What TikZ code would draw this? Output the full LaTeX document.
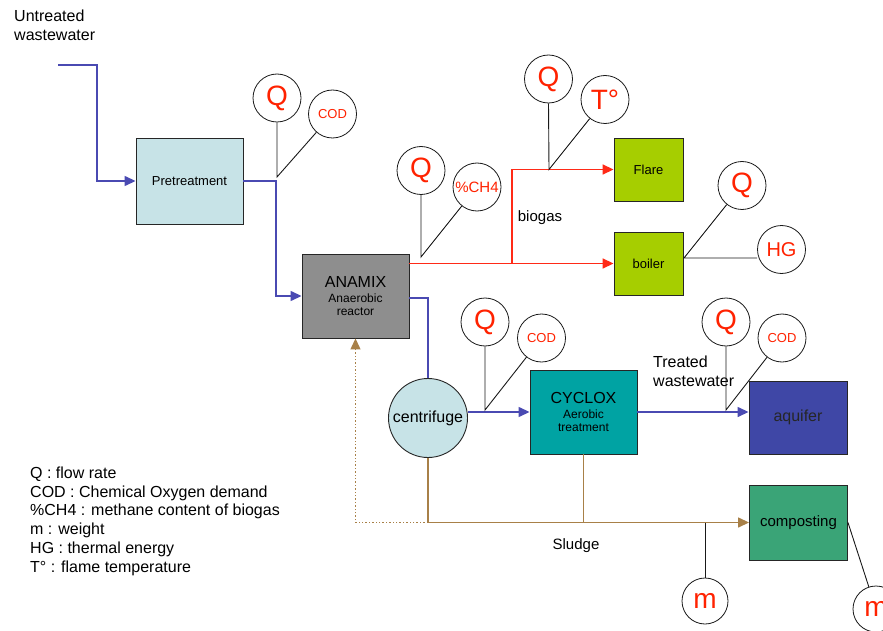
\documentclass[tikz,border=0pt]{standalone}
\usepackage{fontspec}
\setmainfont{Liberation Sans}
\usetikzlibrary{arrows.meta}
\definecolor{lblue}{HTML}{C7E3E7}
\definecolor{rgray}{HTML}{8E8E8E}
\definecolor{lime}{HTML}{A6CE00}
\definecolor{teal2}{HTML}{00A3A3}
\definecolor{aqblue}{HTML}{3F47A6}
\definecolor{compgreen}{HTML}{3AA477}
\definecolor{flowblue}{HTML}{4A4AB2}
\definecolor{gasred}{HTML}{FF2A17}
\definecolor{sludge}{HTML}{A88048}
\definecolor{labred}{HTML}{FF2200}
\begin{document}
\begin{tikzpicture}[x=1pt,y=-1pt,
  box/.style={draw=black!85, line width=0.9pt, inner sep=0pt, align=center},
  probe/.style={circle, draw=black!90, line width=0.8pt, fill=white, minimum size=48pt, inner sep=0pt, text=labred},
  call/.style={draw=black!90, line width=0.9pt},
  tip/.style={-{Triangle[length=11pt,width=10pt]}},
  water/.style={draw=flowblue, line width=1.4pt},
  gas/.style={draw=gasred, line width=1.6pt},
  mud/.style={draw=sludge, line width=1.4pt},
  big/.style={font=\fontsize{28}{30}\selectfont},
  small/.style={font=\fontsize{13}{15}\selectfont},
  mid/.style={font=\fontsize{15}{17}\selectfont},
  hgf/.style={font=\fontsize{20}{22}\selectfont},
  txt/.style={font=\fontsize{16}{19}\selectfont, inner sep=0pt}
]
\useasboundingbox (0,0) rectangle (883,631);
\clip (0,0) rectangle (883,631);

% boxes
\node[box, fill=lblue, minimum width=107pt, minimum height=86pt, font=\fontsize{13}{15}\selectfont] (pre) at (189.5,181) {Pretreatment};
\node[box, fill=rgray, minimum width=107pt, minimum height=84pt] (ana) at (355.5,296) {\fontsize{16}{18}\selectfont ANAMIX\\[3pt]\fontsize{12}{14}\selectfont Anaerobic\\[1pt]\fontsize{12}{14}\selectfont reactor};
\node[box, fill=lime, minimum width=69pt, minimum height=63pt, font=\fontsize{13}{15}\selectfont] (flare) at (648.5,169.5) {Flare};
\node[box, fill=lime, minimum width=69pt, minimum height=63pt, font=\fontsize{13}{15}\selectfont] (boiler) at (648.5,263.5) {boiler};
\node[circle, draw=black!85, line width=0.9pt, fill=lblue, minimum size=79pt, inner sep=0pt, font=\fontsize{16}{18}\selectfont] (cent) at (428,418) {centrifuge};
\node[box, fill=teal2, minimum width=107pt, minimum height=84pt] (cyc) at (583.5,412) {\fontsize{16}{18}\selectfont CYCLOX\\[3pt]\fontsize{12}{14}\selectfont Aerobic\\[1pt]\fontsize{12}{14}\selectfont treatment};
\node[box, fill=aqblue, minimum width=98pt, minimum height=73pt, font=\fontsize{16}{18}\selectfont, text=black!85] (aq) at (798,417.5) {aquifer};
\node[box, fill=compgreen, minimum width=98pt, minimum height=75pt, font=\fontsize{15}{17}\selectfont] (comp) at (798.5,522.5) {composting};

% texts
\node[txt, anchor=north west, align=left] (untr) at (14,10) {Untreated\\wastewater};
\node[txt, anchor=north west, align=left] (treated) at (653,356) {Treated\\wastewater};
\node[txt, font=\fontsize{15}{17}\selectfont] (biogas) at (540,218) {biogas};
\node[txt, font=\fontsize{15}{17}\selectfont] (sludgetxt) at (576,546) {Sludge};
\node[txt, anchor=north west, align=left, font=\fontsize{16}{18.8}\selectfont] (legend) at (30,466.5) {Q : flow rate\\COD : Chemical Oxygen demand\\\%CH4 : methane content of biogas\\m : weight\\HG : thermal energy\\T° : flame temperature};

% probes
\node[probe, big] (q1) at (277,98) {Q};
\node[probe, small] (c1) at (332.5,114) {COD};
\node[probe, big] (q2) at (421,170.5) {Q};
\node[probe, mid] (ch4) at (477,187) {\%CH4};
\node[probe, big] (q3) at (548.5,79) {Q};
\node[probe, big] (t3) at (605,99.5) {T°};
\node[probe, big] (q4) at (742,185.5) {Q};
\node[probe, hgf] (hg) at (781.5,249.5) {HG};
\node[probe, big] (q5) at (485,322) {Q};
\node[probe, small] (c5) at (541.5,338) {COD};
\node[probe, big] (q6) at (726,322) {Q};
\node[probe, small] (c6) at (782,338) {COD};
\node[probe, big, minimum size=46pt] (m1) at (705,601) {m};
\node[probe, big, minimum size=46pt] (m2) at (876,609) {m};

% junction points
\coordinate (in0) at (58,65);
\coordinate (in1) at (97,65);
\coordinate (j1) at (276,181);
\coordinate (k1) at (277,177);
\coordinate (a0) at (409,298);
\coordinate (k2) at (421,257);
\coordinate (br) at (512,263.5);
\coordinate (k3) at (549,169.5);
\coordinate (k4) at (684,258);
\coordinate (k5) at (485,410);
\coordinate (k6) at (726,410);
\coordinate (mj) at (705,522.5);

% water flows
\draw[water, tip] (in0) -- (in1) |- (pre.west);
\draw[water, tip] (pre.east) -- (j1) |- (ana.west);
\draw[water] (a0) -| (cent.north);
\draw[water, tip] (cyc.west -| cent.east) -- (cyc.west);
\draw[water, tip] (cyc.east) -- (cyc.east -| aq.west);

% gas flows
\draw[gas, tip] (ana.east |- boiler.west) -- (boiler.west);
\draw[gas, tip] (br) |- (flare.west);

% sludge flows
\draw[mud, tip] (cent.south) |- (comp.west);
\draw[mud] (cyc.south) -- (cyc.south |- comp.west);
\draw[mud, dotted, line width=1.2pt, tip] (cent.south |- comp.west) -| (ana.south);

% probe callouts
\draw[call] (q1.south) -- (k1) -- (c1);
\draw[call] (q2.south) -- (k2) -- (ch4);
\draw[call] (q3.south) -- (k3) -- (t3);
\draw[call] (q4) -- (k4) -- (k4 -| hg.west);
\draw[call] (q5.south) -- (k5) -- (c5);
\draw[call] (q6.south) -- (k6) -- (c6);
\draw[call] (mj) -- (m1.north);
\draw[call] (comp.east) -- (m2);
\end{tikzpicture}
\end{document}
